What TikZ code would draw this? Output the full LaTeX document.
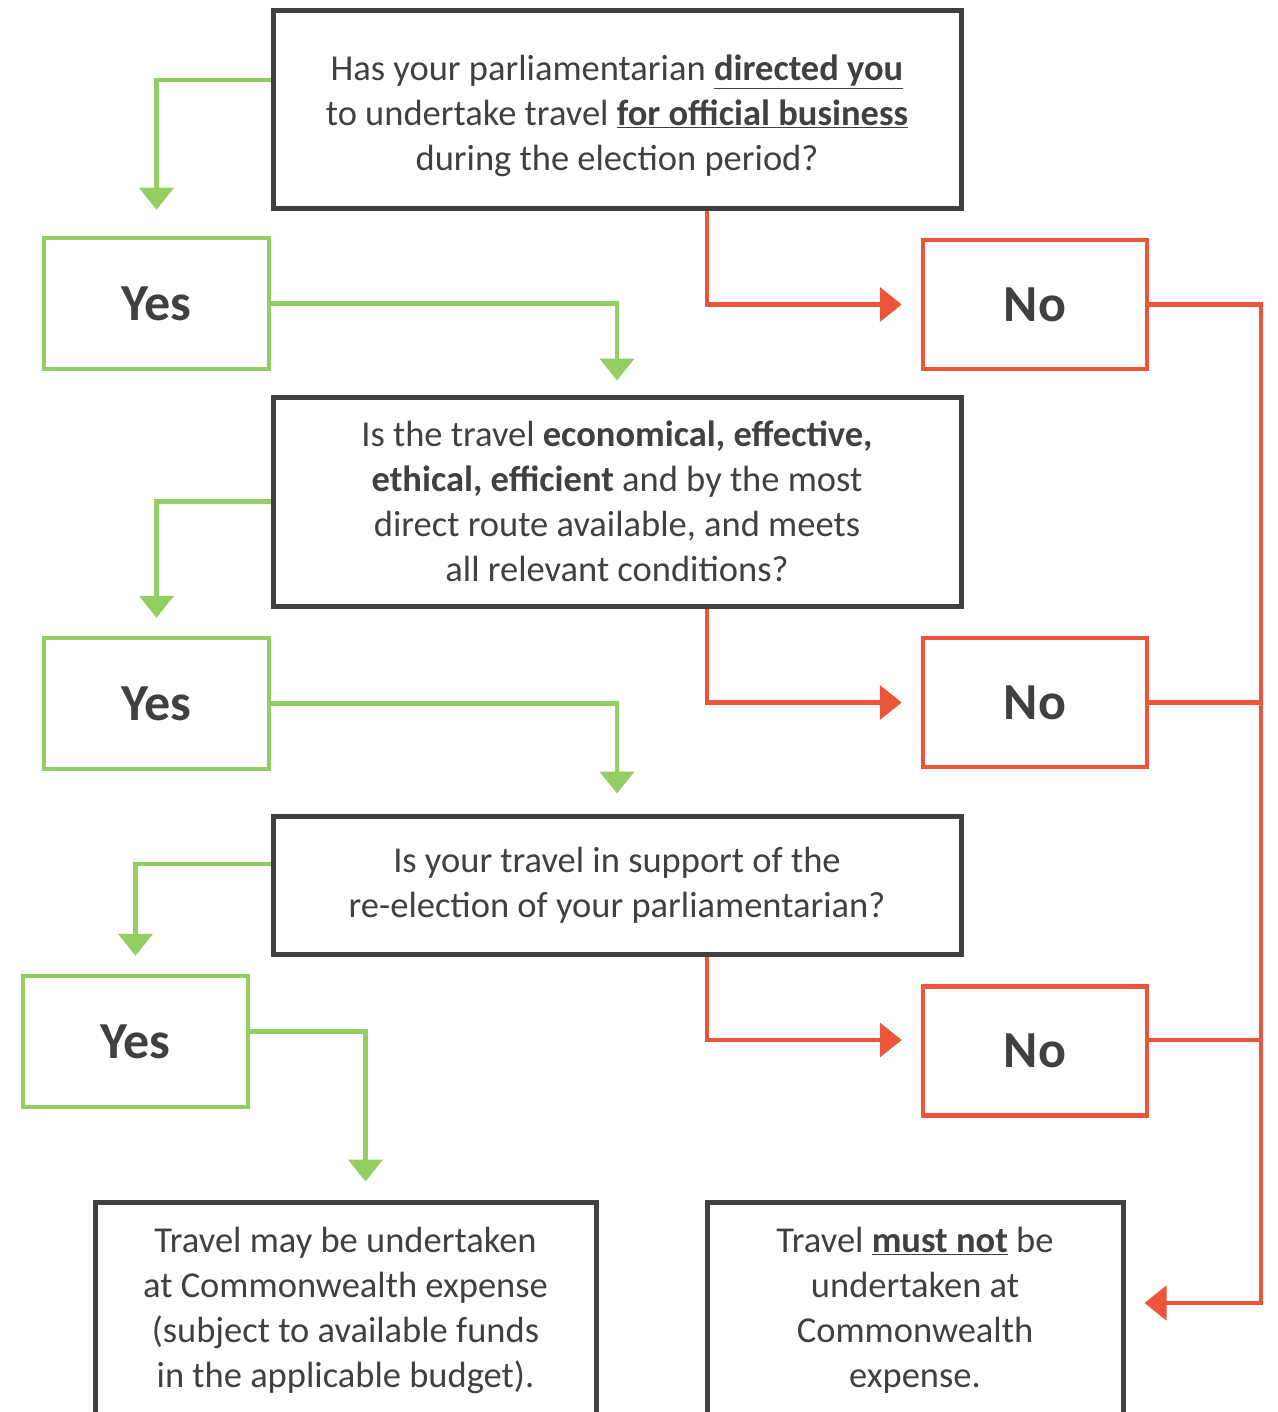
\documentclass[tikz,border=0pt]{standalone}
\usepackage{fontspec}
\setmainfont{Carlito}
\usetikzlibrary{arrows.meta}
\definecolor{boxgray}{HTML}{404040}
\definecolor{yesgreen}{HTML}{92CE62}
\definecolor{nored}{HTML}{EC5538}
\tikzset{%
  >={Triangle[length=22pt,width=34pt]}, % big flat arrow heads
  question/.style={draw=boxgray,line width=5pt,inner sep=0pt,align=center,
    text=boxgray,font=\fontsize{36.5}{45}\selectfont},%
  yesbox/.style={draw=yesgreen,line width=4.5pt,minimum width=225pt,
    minimum height=131pt,text=boxgray,font=\fontsize{52}{58}\selectfont\bfseries},%
  nobox/.style={draw=nored,line width=4.5pt,minimum width=224pt,
    minimum height=129pt,text=boxgray,font=\fontsize{52}{58}\selectfont\bfseries},%
  yesline/.style={draw=yesgreen,line width=4.5pt,->},%
  noline/.style={draw=nored,line width=4.5pt,->}%
}

\begin{document}
\begin{tikzpicture}[x=1pt,y=-1pt] % TRAVEL CHECK

\path[use as bounding box] (0,0) rectangle (1277,1412);
\clip (0,0) rectangle (1277,1412);

\def\qw{688pt}

% questions
\node[question,minimum width=\qw,minimum height=198pt] (q1) at (617,110)
  {\rule{0pt}{38pt}Has your parliamentarian \underline{\textbf{directed you}}\\
   to undertake travel \underline{\textbf{for official business}}\\
   during the election period?};
\node[question,minimum width=\qw,minimum height=209pt] (q2) at (617,501.5)
  {Is the travel \textbf{economical, effective,}\\
   \textbf{ethical, efficient} and by the most\\
   direct route available, and meets\\
   all relevant conditions?};
\node[question,minimum width=\qw,minimum height=138pt] (q3) at (617,885)
  {Is your travel in support of the\\
   re-election of your parliamentarian?};

% answers
\node[yesbox] (y1) at (156.5,303.5) {Yes};
\node[yesbox] (y2) at (156.5,703.5) {Yes};
\node[yesbox] (y3) at (135.5,1041.5) {Yes};
\node[nobox] (n1) at (1035,304.5) {No};
\node[nobox] (n2) at (1035,702.5) {No};
\node[nobox] (n3) at (1035,1051) {No};

% outcomes
\node[question,minimum width=501pt,minimum height=216pt] (fyes) at (345.5,1310)
  {Travel may be undertaken\\
   at Commonwealth expense\\
   (subject to available funds\\
   in the applicable budget).};
\node[question,minimum width=416pt,minimum height=216pt] (fno) at (915,1310)
  {Travel \underline{\textbf{must not}} be\\
   undertaken at\\
   Commonwealth\\
   expense.};

\coordinate (rail) at (1261,1303);

\draw[yesline,shorten >=26pt] ([yshift=30pt]q1.west) -| (y1.north);
\draw[yesline,shorten >=14pt] (y1.east) -| (q2.north);
\draw[yesline,shorten >=18pt] (q2.west) -| (y2.north);
\draw[yesline,shorten >=20pt] (y2.east) -| (q3.north);
\draw[yesline,shorten >=18pt] ([yshift=21pt]q3.west) -| (y3.north);
\draw[yesline,shorten >=18pt] ([yshift=10pt]y3.east) -| ([xshift=20pt]fyes.north);

\draw[noline,shorten >=19pt] ([xshift=90pt]q1.south) |- (n1.west);
\draw[noline,shorten >=19pt] ([xshift=90pt]q2.south) |- (n2.west);
\draw[noline,shorten >=19pt] ([xshift=90pt]q3.south) |- ([yshift=11pt]n3.west);

\draw[noline,-] (n2.east) -- (n2.east -| rail);
\draw[noline,-] ([yshift=11pt]n3.east) -- ([yshift=11pt]n3.east -| rail);
\draw[noline,shorten >=19pt] (n1.east) -| (rail) -- (rail -| fno.east);

\end{tikzpicture}
\end{document}
